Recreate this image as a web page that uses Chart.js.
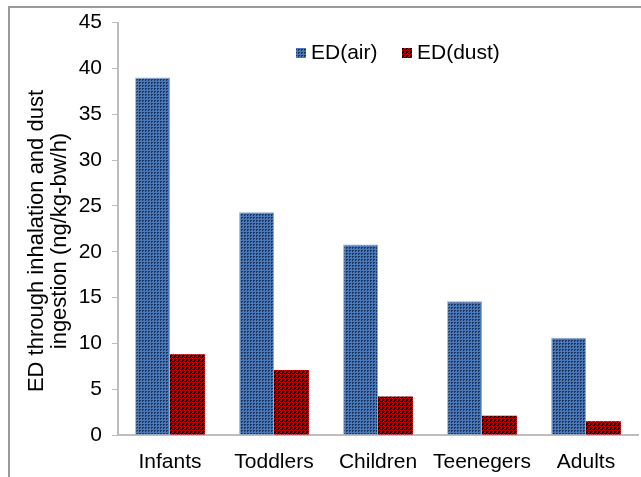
<!DOCTYPE html>
<html>
<head>
<meta charset="utf-8">
<script src="https://cdn.jsdelivr.net/npm/chart.js@4.4.1/dist/chart.umd.min.js"></script>
<style>
  body { margin: 0; background: #fff; }
  #wrap { position: relative; width: 641px; height: 477px; overflow: hidden; }
  #frame { position: absolute; left: 8px; top: 6px; width: 700px; height: 500px;
           border-left: 2px solid #9a9a9a; border-top: 2px solid #9a9a9a; }
  canvas { position: absolute; left: 0; top: 0; }
</style>
</head>
<body>
<div id="wrap">
  <div id="frame"></div>
  <canvas id="edChart" width="641" height="477"></canvas>
</div>
<script>
const groups = ['Infants', 'Toddlers', 'Children', 'Teenegers', 'Adults'];
const edAir = [39.0, 24.3, 20.8, 14.6, 10.6];
const edDust = [8.8, 7.1, 4.2, 2.1, 1.5];
const yTicks = [0, 5, 10, 15, 20, 25, 30, 35, 40, 45];
const yTitle = ['ED through inhalation and dust', 'ingestion (ng/kg-bw/h)'];

const FONT = 'Liberation Sans, Arial, sans-serif';

function makePattern(base, dot, cells, size) {
  const c = document.createElement('canvas');
  c.width = size;
  c.height = size;
  const g = c.getContext('2d');
  g.fillStyle = base;
  g.fillRect(0, 0, size, size);
  g.fillStyle = dot;
  cells.forEach(([x, y]) => g.fillRect(x, y, 1, 1));
  return g.createPattern(c, 'repeat');
}

const airFill = makePattern('#4a78b8', '#1c355e', [[1, 1], [2, 1], [1, 2]], 3);
const dustFill = makePattern('#000000', '#c80000', [[0, 0], [1, 0], [2, 2], [3, 1], [1, 3], [0, 2]], 4);

// draws the legend inside the plot, like the original
const innerLegend = {
  id: 'innerLegend',
  afterDraw(chart) {
    const ctx = chart.ctx;
    const items = [
      { x: 296, label: chart.data.datasets[0].label, fill: chart.data.datasets[0].backgroundColor },
      { x: 402, label: chart.data.datasets[1].label, fill: chart.data.datasets[1].backgroundColor },
    ];
    ctx.save();
    ctx.font = '21px ' + FONT;
    ctx.textBaseline = 'middle';
    items.forEach((it) => {
      ctx.fillStyle = it.fill;
      ctx.fillRect(it.x, 48, 10, 10);
      ctx.fillStyle = '#000';
      ctx.fillText(it.label, it.x + 15, 53);
    });
    ctx.restore();
  },
};

const ctx = document.getElementById('edChart').getContext('2d');
new Chart(ctx, {
  type: 'bar',
  data: {
    labels: groups,
    datasets: [
      { label: 'ED(air)', data: edAir, backgroundColor: airFill, borderColor: '#8fa9d4', borderWidth: { left: 1, right: 1, top: 1, bottom: 0 } },
      { label: 'ED(dust)', data: edDust, backgroundColor: dustFill, borderWidth: 0 },
    ],
  },
  options: {
    responsive: false,
    animation: false,
    layout: { padding: { left: 0, top: 22, right: 3, bottom: 0 } },
    datasets: { bar: { categoryPercentage: 0.67, barPercentage: 1.0 } },
    plugins: {
      legend: { display: false },
      tooltip: { enabled: false },
    },
    scales: {
      x: {
        grid: { display: false, drawTicks: false },
        border: { color: '#bdbdbd', width: 2 },
        ticks: {
          color: '#000',
          font: { size: 21, family: FONT },
          padding: 15,
          autoSkip: false,
          maxRotation: 0,
          minRotation: 0,
        },
        afterFit: (scale) => { scale.height = 42; },
      },
      y: {
        min: 0,
        max: 45,
        afterBuildTicks: (scale) => { scale.ticks = yTicks.map((v) => ({ value: v })); },
        grid: { drawOnChartArea: false, drawTicks: true, tickLength: 6, color: '#bdbdbd', lineWidth: 1 },
        border: { color: '#bdbdbd', width: 2 },
        ticks: { color: '#000', font: { size: 21, family: FONT }, padding: 10 },
        title: {
          display: true,
          // trailing spaces nudge the centred title a little lower, as in the original
          text: yTitle.map((s) => s + '    '),
          color: '#000',
          font: { size: 22, family: FONT, lineHeight: 1.05 },
          padding: { top: 25, bottom: 0 },
        },
        afterFit: (scale) => { scale.width = 118; },
      },
    },
  },
  plugins: [innerLegend],
});
</script>
</body>
</html>
